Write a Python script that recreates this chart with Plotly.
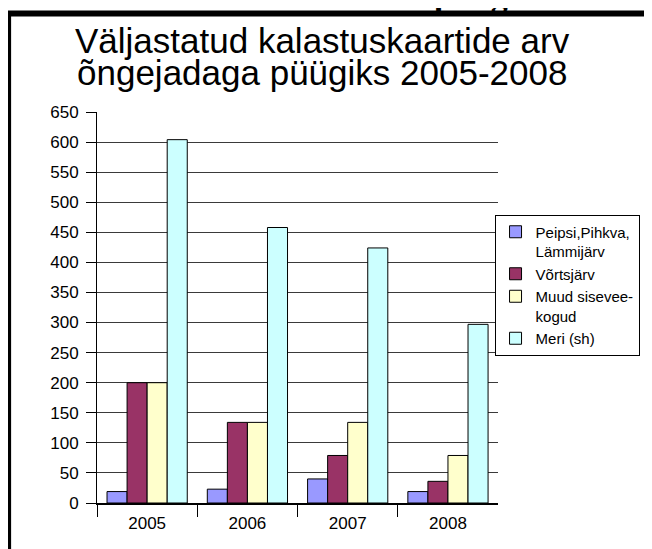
import plotly.graph_objects as go

years = ["2005", "2006", "2007", "2008"]
series_names = ["Peipsi,Pihkva,<br>Lämmijärv", "Võrtsjärv", "Muud sisevee-<br>kogud", "Meri (sh)"]
peipsi = [19, 23, 40, 19]
vortsjarv = [200, 134, 79, 36]
muud = [200, 134, 134, 79]
meri = [604, 458, 424, 297]
colors = ["#9999FF", "#993366", "#FFFFCC", "#CCFFFF"]
y_ticks = list(range(0, 651, 50))
title_lines = ["Väljastatud kalastuskaartide arv", "õngejadaga püügiks 2005-2008"]

OFF = 8  # the page body margin shifts the figure by 8 px
W, H = 652 - OFF, 549 - OFF
ML, MR, MT, MB = 89, 149, 104, 46
PW = W - ML - MR
PH = H - MT - MB


def px_x(px):
    # page pixel -> paper fraction
    return (px - OFF - ML) / PW


def px_y(py):
    return (H - MB - (py - OFF)) / PH


fig = go.Figure()
for name, vals, col in zip(series_names, [peipsi, vortsjarv, muud, meri], colors):
    fig.add_trace(go.Bar(
        x=years, y=vals, name=name,
        marker=dict(color=col, line=dict(color="black", width=1)),
    ))

font_fam = "Arial, Liberation Sans, Helvetica, sans-serif"

fig.update_layout(
    width=W, height=H,
    margin=dict(l=ML, r=MR, t=MT, b=MB, pad=0),
    paper_bgcolor="white", plot_bgcolor="white",
    barmode="group", bargap=0.2, bargroupgap=0,
    font=dict(family=font_fam, color="black"),
    showlegend=True,
    legend=dict(
        x=px_x(499.5), y=px_y(214.5), xanchor="left", yanchor="top",
        bgcolor="white", bordercolor="black", borderwidth=1,
        font=dict(size=15, family=font_fam, color="black"),
        valign="top", tracegroupgap=0, entrywidth=140,
    ),
    xaxis=dict(
        type="category", showgrid=False, showline=True, linecolor="black", linewidth=1.5,
        ticks="outside", tickson="boundaries", ticklen=12, tickcolor="black", tickwidth=1,
        tickfont=dict(size=17, family=font_fam, color="black"),
        ticklabelstandoff=4, range=[-0.5, 3.499], fixedrange=True,
    ),
    yaxis=dict(
        range=[0, 650], tickvals=y_ticks, ticktext=[str(v) for v in y_ticks],
        showgrid=True, gridcolor="#3a3a3a", gridwidth=1,
        showline=True, linecolor="black", linewidth=1,
        ticks="outside", ticklen=10, tickcolor="black", tickwidth=1,
        tickfont=dict(size=17, family=font_fam, color="black"),
        ticklabelstandoff=4, zeroline=False, fixedrange=True,
    ),
)

# Title lines (tight line spacing like the original)
for text, cy in zip(title_lines, [40.8, 72.5]):
    fig.add_annotation(
        text=text, xref="paper", yref="paper", x=px_x(325), y=px_y(cy),
        xanchor="center", yanchor="middle", showarrow=False,
        font=dict(size=35, family=font_fam, color="black"),
    )

# Partially cropped heading above the frame
fig.add_annotation(
    text="<b>püügiks</b>", xref="paper", yref="paper", x=px_x(436), y=px_y(16),
    xanchor="left", yanchor="bottom", showarrow=False,
    font=dict(size=34, family="Liberation Serif, Times New Roman, serif", color="black"),
)

# Thick black frame (left and top visible)
fig.add_shape(type="line", xref="paper", yref="paper",
              x0=px_x(4), x1=px_x(700), y0=px_y(13.5), y1=px_y(13.5),
              line=dict(color="black", width=6))
fig.add_shape(type="line", xref="paper", yref="paper",
              x0=px_x(7), x1=px_x(7), y0=px_y(11), y1=px_y(600),
              line=dict(color="black", width=6))

fig.write_html("out.html")
